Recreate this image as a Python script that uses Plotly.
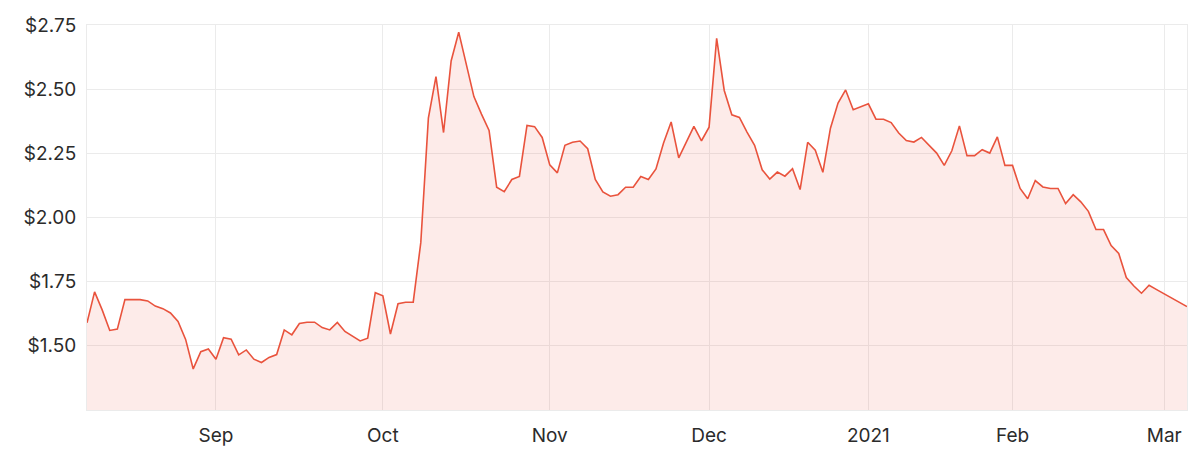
import pandas as pd
import plotly.graph_objects as go

# Closing prices by month (trading days only)
aug_prices = [1.59, 1.71, 1.64, 1.56, 1.565, 1.68, 1.68, 1.68, 1.675, 1.655, 1.645, 1.628,
              1.595, 1.525, 1.41, 1.477, 1.488]
sep_prices = [1.448, 1.532, 1.526, 1.465, 1.484, 1.448, 1.435, 1.455, 1.466, 1.562, 1.543,
              1.587, 1.592, 1.592, 1.571, 1.562, 1.591, 1.556, 1.539, 1.519, 1.53, 1.707]
oct_prices = [1.695, 1.546, 1.664, 1.67, 1.67, 1.902, 2.387, 2.549, 2.331, 2.61, 2.722,
              2.601, 2.471, 2.403, 2.339, 2.118, 2.101, 2.148, 2.16, 2.359, 2.354, 2.312]
nov_prices = [2.205, 2.174, 2.281, 2.293, 2.298, 2.268, 2.148, 2.1, 2.083, 2.089, 2.118,
              2.118, 2.16, 2.148, 2.189, 2.29, 2.372, 2.232, 2.293, 2.355, 2.299]
dec_prices = [2.352, 2.698, 2.495, 2.4, 2.39, 2.333, 2.281, 2.186, 2.15, 2.177, 2.161,
              2.19, 2.109, 2.293, 2.262, 2.176, 2.348, 2.446, 2.497, 2.42, 2.433]
jan_prices = [2.443, 2.383, 2.383, 2.37, 2.329, 2.3, 2.294, 2.312, 2.281, 2.251, 2.203,
              2.26, 2.357, 2.241, 2.241, 2.264, 2.251, 2.314, 2.203]
feb_prices = [2.203, 2.113, 2.073, 2.144, 2.119, 2.113, 2.113, 2.054, 2.089, 2.061, 2.024,
              1.953, 1.953, 1.891, 1.86, 1.766, 1.733, 1.705, 1.736, 1.719]
mar_prices = [1.703, 1.686, 1.67, 1.653]

market_holidays = ["2020-12-25", "2020-12-28", "2021-01-01", "2021-01-26"]
start_date = "2020-08-07"
end_date = "2021-03-04"

# first trading day of each month
tick_dates = ["2020-09-01", "2020-10-01", "2020-11-02", "2020-12-01",
              "2021-01-04", "2021-02-01", "2021-03-01"]
tick_labels = ["Sep", "Oct", "Nov", "Dec", "2021", "Feb", "Mar"]

y_ticks = [1.50, 1.75, 2.00, 2.25, 2.50, 2.75]
y_tick_labels = ["$1.50", "$1.75", "$2.00", "$2.25", "$2.50", "$2.75"]

prices = (aug_prices + sep_prices + oct_prices + nov_prices + dec_prices
          + jan_prices + feb_prices + mar_prices)
dates = [d for d in pd.bdate_range(start_date, end_date)
         if d.strftime("%Y-%m-%d") not in market_holidays]

LINE = "#e9533d"
FILL = "rgba(240, 90, 70, 0.12)"
GRID = "#ebebeb"
TEXT = "#2b2b2b"
FONT = "Inter, 'Open Sans', sans-serif"

fig = go.Figure(go.Scatter(
    x=dates, y=prices, mode="lines",
    line=dict(color=LINE, width=1.6),
    fill="tozeroy", fillcolor=FILL,
    hoverinfo="skip",
))

# the page body adds an 8px offset, so the figure is sized to fit the window
fig.update_layout(
    width=1192, height=449,
    margin=dict(l=79, r=13, t=17, b=47),
    paper_bgcolor="white", plot_bgcolor="white",
    showlegend=False,
    font=dict(family=FONT, size=19, color=TEXT),
)
fig.update_xaxes(
    type="date",
    range=[dates[0], dates[-1]],
    rangebreaks=[dict(bounds=["sat", "mon"]), dict(values=market_holidays)],
    tickmode="array", tickvals=tick_dates, ticktext=tick_labels,
    showgrid=True, gridcolor=GRID, gridwidth=1,
    showline=True, linecolor=GRID, linewidth=1, mirror=True,
    ticks="", ticklabelstandoff=8,
    zeroline=False, automargin=False,
)
fig.update_yaxes(
    range=[1.25, 2.75],
    tickmode="array", tickvals=y_ticks, ticktext=y_tick_labels,
    showgrid=True, gridcolor=GRID, gridwidth=1,
    showline=True, linecolor=GRID, linewidth=1, mirror=True,
    ticks="", ticklabelstandoff=6,
    zeroline=False, automargin=False,
)

fig.write_html("out.html")
